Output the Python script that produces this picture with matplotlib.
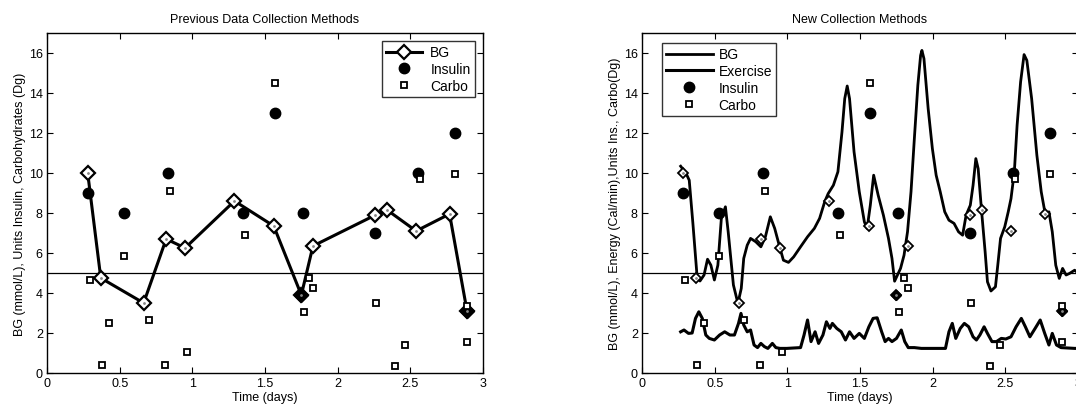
import matplotlib
matplotlib.use("Agg")
import matplotlib.pyplot as plt
import numpy as np

plt.rcParams['font.family'] = ['Liberation Sans', 'DejaVu Sans']

# ---- data ----
bg_t = [0.28, 0.37, 0.665, 0.82, 0.95, 1.29, 1.56, 1.75, 1.83, 2.26, 2.34, 2.54, 2.77, 2.89]
bg_v = [10.0, 4.75, 3.5, 6.7, 6.25, 8.6, 7.35, 3.9, 6.35, 7.9, 8.15, 7.1, 7.95, 3.1]
bg_filled = [7, 13]

ins_t = [0.28, 0.53, 0.835, 1.35, 1.57, 1.76, 2.26, 2.555, 2.81]
ins_v = [9.0, 8.0, 10.0, 8.0, 13.0, 8.0, 7.0, 10.0, 12.0]

carb_t = [0.295, 0.377, 0.425, 0.53, 0.703, 0.81, 0.845, 0.96, 1.36, 1.57,
          1.766, 1.80, 1.828, 2.264, 2.393, 2.464, 2.566, 2.806, 2.889, 2.893]
carb_v = [4.65, 0.4, 2.5, 5.86, 2.64, 0.4, 9.1, 1.03, 6.9, 14.5,
          3.04, 4.74, 4.25, 3.5, 0.37, 1.4, 9.69, 9.96, 3.34, 1.57]

bgc_t = [0.266, 0.304, 0.325, 0.35, 0.38, 0.399, 0.427, 0.451, 0.474, 0.498, 0.522, 0.546, 0.574,
         0.593, 0.629, 0.66, 0.683, 0.70, 0.724, 0.747, 0.783, 0.818, 0.849, 0.883, 0.913, 0.944,
         0.973, 1.008, 1.044, 1.091, 1.139, 1.186, 1.222, 1.257, 1.281, 1.317, 1.348, 1.376, 1.395,
         1.412, 1.428, 1.459, 1.495, 1.53, 1.549, 1.571, 1.594, 1.625, 1.661, 1.696, 1.72, 1.738,
         1.779, 1.803, 1.827, 1.851, 1.874, 1.898, 1.917, 1.926, 1.94, 1.969, 1.998, 2.024, 2.052,
         2.083, 2.112, 2.147, 2.178, 2.206, 2.23, 2.259, 2.278, 2.297, 2.313, 2.337, 2.361, 2.377,
         2.401, 2.432, 2.448, 2.467, 2.496, 2.52, 2.539, 2.562, 2.581, 2.605, 2.629, 2.648, 2.681,
         2.717, 2.747, 2.776, 2.80, 2.823, 2.847, 2.871, 2.894, 2.918, 2.942, 2.977, 3.0]
bgc_v = [10.34, 9.97, 9.64, 7.5, 4.73, 4.6, 4.9, 5.69, 5.39, 4.65, 5.39, 7.73, 8.31,
         7.06, 4.4, 3.48, 4.23, 5.73, 6.39, 6.73, 6.56, 6.31, 6.81, 7.81, 7.23, 6.39,
         5.64, 5.53, 5.81, 6.31, 6.81, 7.23, 7.73, 8.56, 8.97, 9.39, 10.06, 12.05, 13.72,
         14.35, 13.72, 11.06, 9.06, 7.56, 7.23, 8.39, 9.89, 8.89, 7.89, 6.73, 5.73, 4.59,
         5.23, 5.89, 7.06, 9.06, 11.72, 14.39, 15.88, 16.13, 15.72, 13.22, 11.22, 9.89, 9.06,
         8.06, 7.64, 7.48, 7.06, 6.89, 7.89, 8.39, 9.39, 10.72, 10.22, 8.06, 6.06, 4.56,
         4.1, 4.31, 5.39, 6.73, 7.31, 8.06, 8.72, 10.06, 12.39, 14.55, 15.92, 15.63, 13.72,
         10.89, 9.06, 7.89, 8.06, 7.06, 5.39, 4.73, 5.23, 4.9, 4.98, 5.14, 5.0]

ex_t = [0.266, 0.289, 0.32, 0.345, 0.368, 0.391, 0.415, 0.439, 0.463, 0.498, 0.534, 0.569, 0.605,
        0.636, 0.664, 0.681, 0.70, 0.724, 0.747, 0.771, 0.795, 0.818, 0.842, 0.866, 0.897, 0.921,
        0.949, 0.996, 1.091, 1.115, 1.139, 1.163, 1.191, 1.215, 1.245, 1.269, 1.293, 1.31, 1.34,
        1.371, 1.40, 1.428, 1.459, 1.495, 1.53, 1.561, 1.59, 1.618, 1.649, 1.673, 1.696, 1.72,
        1.751, 1.784, 1.808, 1.832, 1.874, 1.922, 2.088, 2.112, 2.135, 2.159, 2.19, 2.218, 2.248,
        2.278, 2.301, 2.325, 2.354, 2.377, 2.408, 2.439, 2.472, 2.503, 2.539, 2.574, 2.61, 2.638,
        2.669, 2.705, 2.74, 2.771, 2.80, 2.823, 2.852, 2.883, 2.977, 3.0]
ex_v = [2.06, 2.15, 1.98, 2.0, 2.73, 3.06, 2.73, 1.9, 1.73, 1.65, 1.9, 2.06, 1.9,
        1.9, 2.48, 2.98, 2.4, 2.06, 2.15, 1.4, 1.27, 1.48, 1.32, 1.23, 1.48, 1.27,
        1.23, 1.23, 1.27, 1.9, 2.65, 1.57, 2.06, 1.48, 1.9, 2.56, 2.23, 2.48, 2.23,
        2.06, 1.65, 2.06, 1.73, 1.98, 1.73, 2.31, 2.73, 2.76, 2.06, 1.57, 1.73, 1.57,
        1.73, 2.15, 1.57, 1.27, 1.27, 1.23, 1.23, 2.06, 2.48, 1.73, 2.23, 2.48, 2.31,
        1.81, 1.65, 1.9, 2.31, 1.98, 1.57, 1.57, 1.73, 1.7, 1.81, 2.31, 2.73, 2.31,
        1.81, 2.23, 2.65, 1.98, 1.4, 1.98, 1.4, 1.27, 1.23, 1.23]

xticks = [0, 0.5, 1, 1.5, 2, 2.5, 3]
xticklabels = ['0', '0.5', '1', '1.5', '2', '2.5', '3']
yticks = [0, 2, 4, 6, 8, 10, 12, 14, 16]

W, H = 1076, 410
fig = plt.figure(figsize=(W / 100, H / 100), dpi=100)
ax1 = fig.add_axes([47 / W, (H - 374) / H, 436 / W, 340 / H])
ax2 = fig.add_axes([642 / W, (H - 374) / H, 436 / W, 340 / H])

FS = 9


def style(ax, title, ylabel):
    ax.set_xlim(0, 3)
    ax.set_ylim(0, 17)
    ax.set_xticks(xticks)
    ax.set_xticklabels(xticklabels)
    ax.set_yticks(yticks)
    ax.tick_params(direction='in', top=True, right=True, labelsize=FS, length=4, width=0.8, pad=3)
    for s in ax.spines.values():
        s.set_linewidth(1.0)
    ax.set_title(title, fontsize=FS, pad=8)
    ax.set_xlabel('Time (days)', fontsize=FS, labelpad=1)
    ax.set_ylabel(ylabel, fontsize=FS, labelpad=2)
    ax.axhline(5, color='black', lw=0.9)


bg_t_a = np.array(bg_t)
bg_v_a = np.array(bg_v)
fill_idx = np.array(bg_filled)

# ---- left ----
style(ax1, 'Previous Data Collection Methods', 'BG (mmol/L), Units Insulin, Carbohydrates (Dg)')
h_bg, = ax1.plot(bg_t, bg_v, '-', color='black', lw=2.2, marker='D', ms=7,
                 mfc='white', mec='black', mew=1.6, label='BG', zorder=3)
ax1.plot(bg_t_a[fill_idx], bg_v_a[fill_idx], 'D', color='black', ms=7, zorder=4)
ax1.plot(bg_t, bg_v, '.', color='#888888', ms=2, zorder=5)
h_in, = ax1.plot(ins_t, ins_v, 'o', color='black', ms=7.5, ls='none', label='Insulin', zorder=4)
h_cb, = ax1.plot(carb_t, carb_v, 's', mfc='white', mec='black', mew=1.3, ms=5, ls='none',
                 label='Carbo', zorder=5)
leg1 = ax1.legend(handles=[h_bg, h_in, h_cb], loc='upper right', fontsize=FS + 1,
                  frameon=True, fancybox=False, borderaxespad=0.6, handlelength=2.6,
                  labelspacing=0.2, borderpad=0.3, handletextpad=0.6)
leg1.get_frame().set_edgecolor('black')
leg1.get_frame().set_linewidth(1.0)

# ---- right ----
style(ax2, 'New Collection Methods', 'BG (mmol/L), Energy (Cal/min),Units Ins., Carbo(Dg)')
h2_bg, = ax2.plot(bgc_t, bgc_v, '-', color='black', lw=2.0, label='BG', zorder=3)
h2_ex, = ax2.plot(ex_t, ex_v, '-', color='black', lw=2.2, label='Exercise', zorder=3)
ax2.plot(bg_t, bg_v, 'D', mfc='white', mec='black', mew=1.3, ms=5.5, zorder=4)
ax2.plot(bg_t_a[fill_idx], bg_v_a[fill_idx], 'D', color='black', ms=5.5, zorder=4)
ax2.plot(bg_t, bg_v, '.', color='#888888', ms=2, zorder=5)
h2_in, = ax2.plot(ins_t, ins_v, 'o', color='black', ms=7.5, ls='none', label='Insulin', zorder=4)
h2_cb, = ax2.plot(carb_t, carb_v, 's', mfc='white', mec='black', mew=1.3, ms=5, ls='none',
                  label='Carbo', zorder=5)
leg2 = ax2.legend(handles=[h2_bg, h2_ex, h2_in, h2_cb], loc='upper left', fontsize=FS + 1,
                  bbox_to_anchor=(0.045, 0.97), borderaxespad=0.0,
                  frameon=True, fancybox=False, handlelength=3.4,
                  labelspacing=0.2, borderpad=0.3, handletextpad=0.4)
leg2.get_frame().set_edgecolor('black')
leg2.get_frame().set_linewidth(1.0)

fig.savefig('out.png', dpi=100)
